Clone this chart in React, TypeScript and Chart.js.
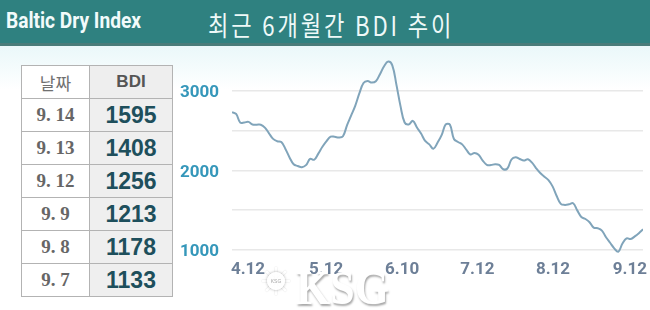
import React, { useEffect, useRef } from "react";
import { Chart, registerables } from "chart.js";

Chart.register(...registerables);

// BDI daily values (approx. Apr – Sep 12)
const bdiValues = [
  2731, 2709, 2601, 2601, 2610, 2577, 2574, 2574, 2538, 2466,
  2396, 2367, 2356, 2270, 2163, 2077, 2055, 2041, 2066, 2144,
  2134, 2211, 2297, 2367, 2423, 2422, 2413, 2430, 2570, 2691,
  2815, 2970, 3098, 3122, 3104, 3120, 3209, 3309, 3367, 3320,
  3078, 2808, 2602, 2577, 2622, 2540, 2463, 2370, 2327, 2272,
  2348, 2443, 2577, 2576, 2395, 2357, 2327, 2262, 2200, 2220,
  2196, 2124, 2071, 2067, 2078, 2069, 2015, 2024, 2137, 2165,
  2144, 2124, 2140, 2097, 2027, 1967, 1921, 1879, 1799, 1678,
  1579, 1567, 1574, 1587, 1498, 1415, 1390, 1349, 1281, 1273,
  1244, 1160, 1091, 1021, 980, 1082, 1147, 1138, 1171, 1212, 1260,
];

// x tick labels and their positions (index into bdiValues)
const xTickLabels = ["4.12", "5.12", "6.10", "7.12", "8.12", "9.12"];
const xTickIndex = [3.9, 22.9, 41.4, 59.7, 78.1, 96.8];

// y axis
const yGridValues = [1000, 1500, 2000, 2500, 3000];
const yLabelValues = [1000, 2000, 3000];
const yMin = 950;
const yMax = 3500;

// table
const tableDates = ["9. 14", "9. 13", "9. 12", "9. 9", "9. 8", "9. 7"];
const tableBdi = [1595, 1408, 1256, 1213, 1178, 1133];

const headerTitle = "Baltic Dry Index";
const mainTitle = "최근 6개월간 BDI 추이";

const axisFont = "Roboto, 'Liberation Sans', sans-serif";

function BdiChart() {
  const ref = useRef<HTMLCanvasElement | null>(null);
  useEffect(() => {
    if (!ref.current) return;
    const chart = new Chart(ref.current, {
      type: "line",
      data: {
        datasets: [
          {
            data: bdiValues.map((v, i) => ({ x: i, y: v })),
            borderColor: "#80a4ba",
            borderWidth: 2,
            pointRadius: 0,
            tension: 0.4,
            fill: false,
          },
        ],
      },
      options: {
        animation: false,
        responsive: false,
        devicePixelRatio: 1,
        layout: { padding: { top: 1, right: 7, left: 0, bottom: 0 } },
        plugins: { legend: { display: false }, tooltip: { enabled: false } },
        scales: {
          x: {
            type: "linear",
            min: 0,
            max: bdiValues.length - 1,
            grid: { display: false, drawTicks: false },
            border: { display: false },
            afterBuildTicks: (s: any) => {
              s.ticks = xTickIndex.map((v) => ({ value: v }));
            },
            afterFit: (s: any) => {
              s.height = 46;
              s.paddingLeft = 0;
              s.paddingRight = 0;
            },
            ticks: {
              autoSkip: false,
              maxRotation: 0,
              padding: 6,
              color: "#6d7f97",
              font: { family: axisFont, size: 17, weight: "bold" },
              callback: (_v: any, i: number) => xTickLabels[i],
            },
          },
          y: {
            type: "linear",
            min: yMin,
            max: yMax,
            border: { display: false },
            grid: {
              drawTicks: false,
              lineWidth: 1.5,
              color: "#e8e8e8",
            },
            afterBuildTicks: (s: any) => {
              s.ticks = yGridValues.map((v) => ({ value: v }));
            },
            afterFit: (s: any) => {
              s.width = 52;
              s.paddingTop = 0;
              s.paddingBottom = 0;
            },
            ticks: {
              autoSkip: false,
              padding: 13,
              labelOffset: 2,
              color: "#3597ba",
              font: { family: axisFont, size: 17, weight: "bold" },
              callback: (v: any) => (yLabelValues.includes(Number(v)) ? String(v) : ""),
            },
          },
        },
      },
    } as any);
    return () => chart.destroy();
  }, []);
  return (
    <canvas
      ref={ref}
      width={470}
      height={250}
      style={{ position: "absolute", left: 180, top: 50, width: 470, height: 250 }}
    />
  );
}

export default function App() {
  const cellBase: React.CSSProperties = {
    boxSizing: "border-box",
    borderRight: "1px solid #b3b3b3",
    borderBottom: "1px solid #b3b3b3",
    display: "flex",
    alignItems: "center",
    justifyContent: "center",
  };
  const spokes = [0, 45, 90, 135];
  return (
    <div
      style={{
        position: "fixed",
        left: 0,
        top: 0,
        width: 650,
        height: 310,
        overflow: "hidden",
        background: "linear-gradient(#eaf8fa 46px, #ffffff 90px)",
      }}
    >
      {/* header bar */}
      <div
        style={{
          position: "absolute",
          left: 0,
          top: 0,
          width: 650,
          height: 46,
          background: "#2f8180",
          borderBottom: "3px solid #4a7c7a",
          boxSizing: "border-box",
        }}
      />
      <div
        style={{
          position: "absolute",
          left: 6,
          top: 8,
          fontFamily: "Roboto, sans-serif",
          fontWeight: "bold",
          fontSize: 22,
          color: "#f2fbfb",
          whiteSpace: "nowrap",
          transform: "scaleX(0.87)",
          transformOrigin: "left top",
        }}
      >
        {headerTitle}
      </div>
      <div
        style={{
          position: "absolute",
          left: 208,
          top: 5,
          fontFamily: "'Noto Sans CJK KR', sans-serif",
          fontWeight: 400,
          fontSize: 27,
          letterSpacing: 3.5,
          color: "#eef9f8",
          whiteSpace: "nowrap",
          transform: "scaleX(0.82)",
          transformOrigin: "left top",
        }}
      >
        {mainTitle}
      </div>

      {/* table */}
      <div
        style={{
          position: "absolute",
          left: 21,
          top: 65,
          display: "grid",
          gridTemplateColumns: "68px 83px",
          gridAutoRows: "33px",
          borderTop: "1px solid #b3b3b3",
          borderLeft: "1px solid #b3b3b3",
        }}
      >
        <div
          style={{
            ...cellBase,
            background: "#ffffff",
            fontFamily: "'Noto Sans CJK KR', sans-serif",
            fontSize: 17,
            color: "#707070",
          }}
        >
          날짜
        </div>
        <div
          style={{
            ...cellBase,
            background: "#eeeeee",
            fontFamily: "'Liberation Sans', Arial, sans-serif",
            fontWeight: "bold",
            fontSize: 17,
            color: "#555555",
          }}
        >
          BDI
        </div>
        {tableDates.map((d, i) => (
          <React.Fragment key={d}>
            <div
              style={{
                ...cellBase,
                background: "#ffffff",
                fontFamily: "'Liberation Serif', serif",
                fontWeight: "bold",
                fontSize: 19,
                color: "#666666",
                whiteSpace: "pre",
              }}
            >
              {d}
            </div>
            <div
              style={{
                ...cellBase,
                background: "#efefef",
                fontFamily: "'Liberation Sans', Arial, sans-serif",
                fontWeight: "bold",
                fontSize: 23,
                color: "#1e4f5c",
              }}
            >
              {tableBdi[i]}
            </div>
          </React.Fragment>
        ))}
      </div>

      <BdiChart />

      {/* KSG watermark */}
      {spokes.map((a) => (
        <div
          key={a}
          style={{
            position: "absolute",
            left: 262,
            top: 280,
            width: 28,
            height: 2,
            background: "rgba(255,255,255,0.9)",
            transform: `rotate(${a}deg)`,
            boxShadow: "0 0 2px rgba(0,0,0,0.2)",
            opacity: 0.8,
          }}
        />
      ))}
      <div
        style={{
          position: "absolute",
          left: 267,
          top: 272,
          width: 18,
          height: 18,
          borderRadius: "50%",
          border: "2px solid #ffffff",
          boxShadow: "0 0 3px rgba(0,0,0,0.35)",
          boxSizing: "border-box",
          display: "flex",
          alignItems: "center",
          justifyContent: "center",
          fontFamily: "'Liberation Sans', sans-serif",
          fontSize: 5,
          color: "#aaaaaa",
          background: "rgba(255,255,255,0.85)",
        }}
      >
        KSG
      </div>
      <div
        style={{
          position: "absolute",
          left: 296,
          top: 260,
          fontFamily: "'Liberation Serif', serif",
          fontWeight: "bold",
          fontSize: 44,
          color: "#ffffff",
          textShadow: "1px 2px 2px rgba(0,0,0,0.35)",
          transform: "scaleY(1.1)",
          transformOrigin: "left top",
          whiteSpace: "nowrap",
        }}
      >
        KSG
      </div>
    </div>
  );
}
